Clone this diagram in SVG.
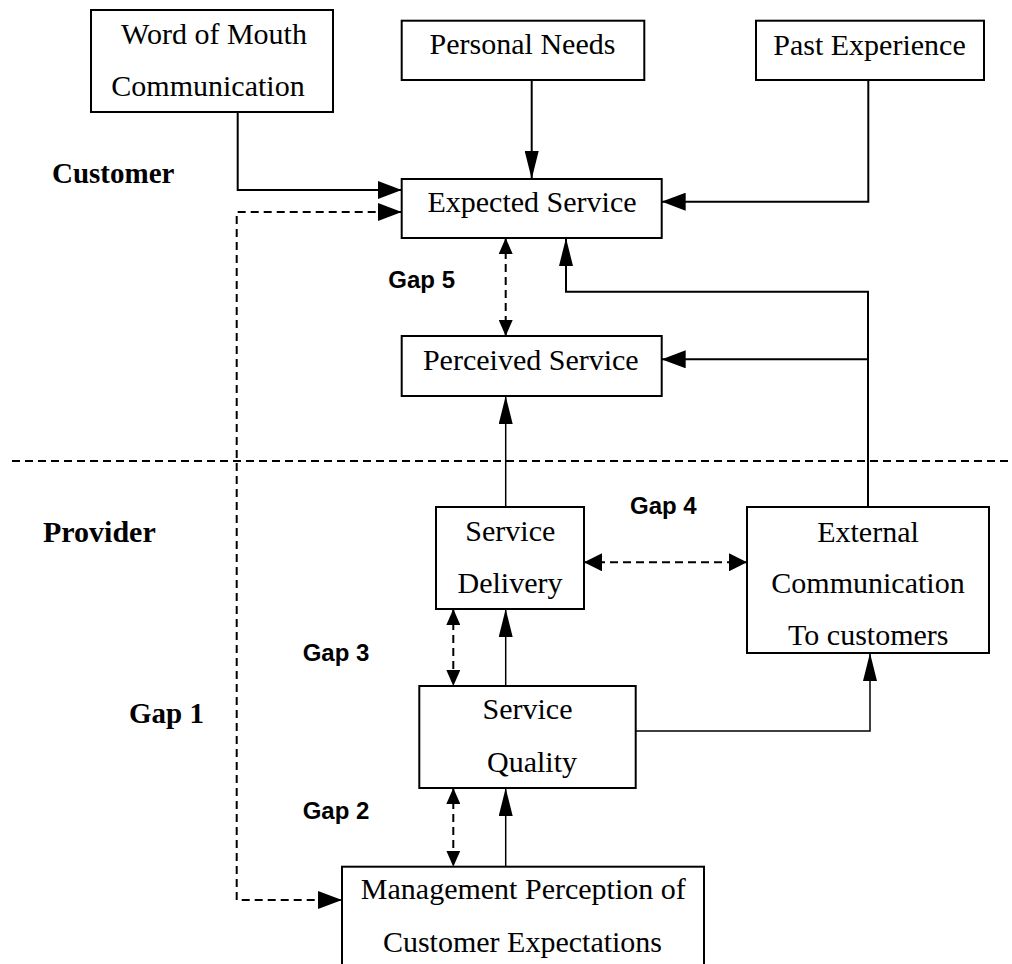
<svg xmlns="http://www.w3.org/2000/svg" width="1012" height="964" viewBox="0 0 1012 964">
<style>
.box{fill:#fff;stroke:#000;stroke-width:2}
.t{font-family:"Liberation Serif","Times New Roman",serif;font-size:30px;fill:#000;text-anchor:middle}
.b{font-family:"Liberation Serif","Times New Roman",serif;font-size:29px;font-weight:bold;fill:#000}
.g{font-family:"Liberation Sans",Arial,sans-serif;font-size:24px;font-weight:bold;fill:#000}
.s{fill:none;stroke:#000;stroke-width:2}
.d{fill:none;stroke:#000;stroke-width:2;stroke-dasharray:8 5}
</style>
<defs>
<marker id="ah" markerUnits="userSpaceOnUse" markerWidth="24" markerHeight="18" refX="24" refY="9" orient="auto-start-reverse" viewBox="0 0 24 18"><path d="M0,0 L24,9 L0,18 z" fill="#000"/></marker>
<marker id="av" markerUnits="userSpaceOnUse" markerWidth="28" markerHeight="14" refX="28" refY="7" orient="auto-start-reverse" viewBox="0 0 28 14"><path d="M0,0 L28,7 L0,14 z" fill="#000"/></marker>
<marker id="dv" markerUnits="userSpaceOnUse" markerWidth="16" markerHeight="14" refX="16" refY="7" orient="auto-start-reverse" viewBox="0 0 16 14"><path d="M0,0 L16,7 L0,14 z" fill="#000"/></marker>
<marker id="dh" markerUnits="userSpaceOnUse" markerWidth="18" markerHeight="18" refX="18" refY="9" orient="auto-start-reverse" viewBox="0 0 18 18"><path d="M0,0 L18,9 L0,18 z" fill="#000"/></marker>
</defs>
<rect width="1012" height="964" fill="#fff"/>
<g id="separator"><line x1="12" y1="461" x2="1012" y2="461" class="d"/></g>
<g id="connectors">
<path class="s" d="M237.7,112 V190 H401.7" marker-end="url(#ah)"/>
<path class="s" d="M531.7,80 V179" marker-end="url(#av)"/>
<path class="s" d="M868.3,80 V201.7 H661.7" marker-end="url(#ah)"/>
<path class="s" d="M868,507 V291.7 H566 V238" marker-end="url(#av)"/>
<path class="s" d="M868,359.3 H661.7" marker-end="url(#ah)"/>
<path class="d" d="M505.7,238 V336" marker-start="url(#dv)" marker-end="url(#dv)"/>
<path class="s" style="stroke-width:1.5" d="M505.7,507 V396" marker-end="url(#av)"/>
<path class="d" d="M584,562.3 H747" marker-start="url(#dh)" marker-end="url(#dh)"/>
<path class="d" d="M453.3,609 V686" marker-start="url(#dv)" marker-end="url(#dv)"/>
<path class="s" style="stroke-width:1.5" d="M505.7,686 V609" marker-end="url(#av)"/>
<path class="d" d="M453.3,788 V866.7" marker-start="url(#dv)" marker-end="url(#dv)"/>
<path class="s" style="stroke-width:1.5" d="M505.7,866.7 V788" marker-end="url(#av)"/>
<path class="s" style="stroke-width:1.5" d="M635.7,731 H870 V653" marker-end="url(#av)"/>
<path class="d" d="M401.7,212 H236.7 V900 H342" marker-start="url(#ah)" marker-end="url(#ah)"/>
</g>
<g id="word-of-mouth"><rect class="box" x="91" y="10" width="242" height="102"/><text class="t" x="214" y="44">Word of Mouth</text><text class="t" x="208" y="96">Communication</text></g>
<g id="personal-needs"><rect class="box" x="401.7" y="20.7" width="242.6" height="59.3"/><text class="t" x="522.5" y="54">Personal Needs</text></g>
<g id="past-experience"><rect class="box" x="756" y="20.7" width="228" height="59.3"/><text class="t" x="869.5" y="55">Past Experience</text></g>
<g id="expected-service"><rect class="box" x="401.7" y="179" width="260" height="59"/><text class="t" x="532" y="211.7">Expected Service</text></g>
<g id="perceived-service"><rect class="box" x="401.7" y="336" width="260" height="60"/><text class="t" x="530.8" y="370">Perceived Service</text></g>
<g id="service-delivery"><rect class="box" x="436" y="507" width="148" height="102"/><text class="t" x="510.3" y="540.7">Service</text><text class="t" x="510" y="593.3">Delivery</text></g>
<g id="external-communication"><rect class="box" x="747" y="507" width="242" height="146"/><text class="t" x="868" y="541.7">External</text><text class="t" x="868" y="593.3">Communication</text><text class="t" x="868.3" y="645">To customers</text></g>
<g id="service-quality"><rect class="box" x="419.3" y="686" width="216.4" height="102"/><text class="t" x="527.5" y="719.3">Service</text><text class="t" x="532" y="771.7">Quality</text></g>
<g id="management-perception"><rect class="box" x="342" y="866.7" width="362" height="120"/><text class="t" x="523.3" y="899.3">Management Perception of</text><text class="t" x="522.5" y="951.7">Customer Expectations</text></g>
<g id="labels">
<text class="b" x="52" y="182.7">Customer</text>
<text class="b" x="43" y="541.7" style="font-size:30px">Provider</text>
<text class="b" x="129" y="723">Gap 1</text>
<text class="g" x="388.3" y="288.3">Gap 5</text>
<text class="g" x="630" y="514">Gap 4</text>
<text class="g" x="302.7" y="660.7">Gap 3</text>
<text class="g" x="302.7" y="819">Gap 2</text>
</g>
</svg>
